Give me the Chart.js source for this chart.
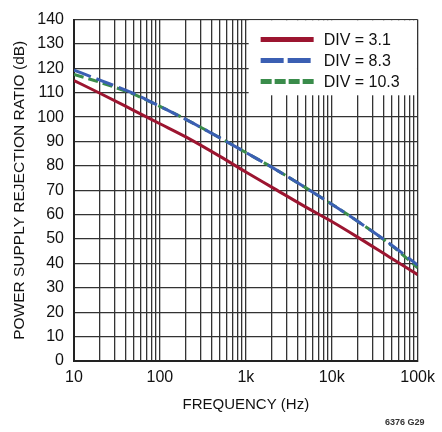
<!DOCTYPE html>
<html>
<head>
<meta charset="utf-8">
<script src="https://cdn.jsdelivr.net/npm/chart.js@4/dist/chart.umd.min.js"></script>
<style>
  html, body { margin: 0; padding: 0; background: #fff; }
  #wrap { position: relative; width: 442px; height: 432px; }
  #code {
    position: absolute; left: 385px; top: 417px;
    font: bold 9px "Liberation Sans", Arial, sans-serif;
    color: #333;
  }
</style>
</head>
<body>
<div id="wrap">
  <canvas id="chart" width="442" height="432"></canvas>
  <div id="code">6376 G29</div>
</div>
<script>
const FONT = '"Liberation Sans", Arial, sans-serif';

// frequency points (Hz)
const freqHz = [10, 20, 50, 100, 200, 500, 1000, 2000, 5000, 10000, 20000, 50000, 100000];

// PSRR (dB) per DIV setting
const div31 = [115, 109.8, 102.7, 97.3, 91.9, 83.9, 77.5, 71.3, 63.1, 57.2, 50.8, 42.0, 35.4];
const div83 = [119.3, 115.2, 109.6, 104.4, 99.1, 91.5, 85.5, 79.5, 71.0, 64.3, 57.3, 47.5, 39.3];
const div103 = [117.5, 114.3, 109.3, 104.4, 99.1, 91.5, 85.5, 79.5, 71.0, 64.3, 57.3, 47.3, 38.2];

const seriesLabels = ["DIV = 3.1", "DIV = 8.3", "DIV = 10.3"];

// x axis labels
const xTickValues = [10, 100, 1000, 10000, 100000];
const xTickLabels = ["10", "100", "1k", "10k", "100k"];

// grid lines 10..100k, 1-9 per decade
const xGrid = [];
xTickValues.forEach((d, i) => {
  if (i === xTickValues.length - 1) { xGrid.push(d); return; }
  for (let m = 1; m <= 9; m++) xGrid.push(d * m);
});

const pts = ys => freqHz.map((f, i) => ({ x: f, y: ys[i] }));

// legend drawn inside the plot, on a white box
const boxLegend = {
  id: "boxLegend",
  afterDatasetsDraw(chart) {
    const ctx = chart.ctx;
    const a = chart.chartArea;
    ctx.save();
    ctx.fillStyle = "#fff";
    ctx.fillRect(a.right - 169, a.top + 0.7, 168.3, 75);
    chart.data.datasets.forEach((ds, i) => {
      const y = a.top + 20 + i * 21;
      ctx.beginPath();
      ctx.strokeStyle = ds.borderColor;
      ctx.lineWidth = 5;
      ctx.setLineDash(ds.legendDash || []);
      ctx.moveTo(a.right - 157, y);
      ctx.lineTo(a.right - 104, y);
      ctx.stroke();
      ctx.setLineDash([]);
      ctx.fillStyle = "#111";
      ctx.font = "16px " + FONT;
      ctx.textBaseline = "middle";
      ctx.fillText(ds.label, a.right - 94, y + 1);
    });
    ctx.restore();
  }
};

new Chart(document.getElementById("chart"), {
  type: "line",
  data: {
    datasets: [
      {
        label: seriesLabels[0], data: pts(div31),
        borderColor: "#9c1530", borderWidth: 3,
        legendDash: []
      },
      {
        label: seriesLabels[1], data: pts(div83),
        borderColor: "#3b5fb3", borderWidth: 3, borderDash: [18, 6],
        legendDash: [23, 4]
      },
      {
        label: seriesLabels[2], data: pts(div103),
        borderColor: "#3a8c4b", borderWidth: 3, borderDash: [10, 5],
        legendDash: [11, 3]
      }
    ]
  },
  options: {
    responsive: false,
    animation: false,
    layout: { padding: { top: 12, right: 17, left: 0, bottom: 0 } },
    elements: {
      point: { radius: 0 },
      line: { cubicInterpolationMode: "monotone" }
    },
    plugins: {
      legend: { display: false },
      tooltip: { enabled: false }
    },
    scales: {
      x: {
        type: "logarithmic",
        min: 10,
        max: 100000,
        afterBuildTicks: s => { s.ticks = xGrid.map(v => ({ value: v })); },
        afterFit: s => { s.height = 71; },
        grid: { color: "#333", lineWidth: 1.3, drawTicks: false },
        border: { color: "#222", width: 2 },
        ticks: {
          autoSkip: false,
          maxRotation: 0,
          padding: 7,
          color: "#111",
          font: { family: FONT, size: 16 },
          callback: v => {
            const i = xTickValues.indexOf(v);
            return i >= 0 ? xTickLabels[i] : "";
          }
        },
        title: {
          display: true,
          text: "FREQUENCY (Hz)",
          color: "#111",
          font: { family: FONT, size: 15 },
          padding: { top: 0, bottom: 18 }
        }
      },
      y: {
        min: 0,
        max: 140,
        afterFit: s => { s.width = 74; },
        grid: { color: "#333", lineWidth: 1.3, drawTicks: false },
        border: { color: "#222", width: 2 },
        ticks: {
          stepSize: 10,
          autoSkip: false,
          padding: 10,
          color: "#111",
          font: { family: FONT, size: 16 }
        },
        title: {
          display: true,
          text: "POWER SUPPLY REJECTION RATIO (dB)",
          color: "#111",
          font: { family: FONT, size: 15.5 },
          padding: { top: 10, bottom: 0 }
        }
      }
    }
  },
  plugins: [boxLegend]
});
</script>
</body>
</html>
